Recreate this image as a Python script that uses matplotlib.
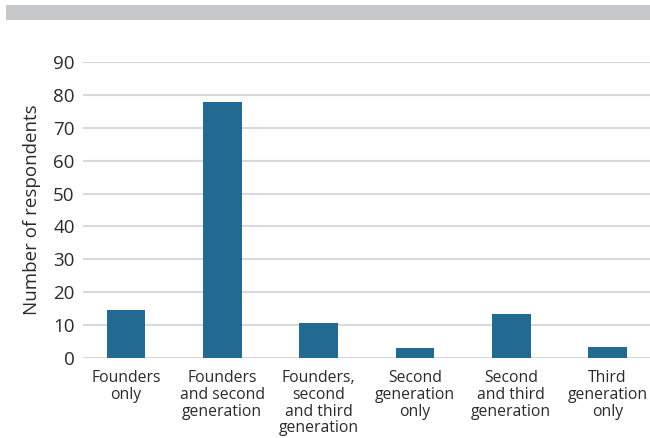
import matplotlib.pyplot as plt
from matplotlib.patches import Rectangle

# Respondents by generations involved
categories = [
    'Founders\nonly',
    'Founders\nand second\ngeneration',
    'Founders,\nsecond\nand third\ngeneration',
    'Second\ngeneration\nonly',
    'Second\nand third\ngeneration',
    'Third\ngeneration\nonly',
]
respondents = [14.6, 77.8, 10.7, 3.1, 13.4, 3.3]
yticks = [0, 10, 20, 30, 40, 50, 60, 70, 80, 90]

plt.rcParams['font.family'] = ['Open Sans', 'DejaVu Sans']
text_color = '#2b2b2b'

fig = plt.figure(figsize=(6.5, 4.38), dpi=100)
ax = fig.add_axes([83 / 650, 1 - 358 / 438, 567 / 650, 296 / 438])

# grey band across the top
fig.patches.append(Rectangle((6 / 650, 1 - 20 / 438), 644 / 650, 15 / 438,
                             transform=fig.transFigure, facecolor='#c6c7c9',
                             edgecolor='none'))

x = list(range(len(categories)))
ax.bar(x, respondents, width=0.4, color='#236a93', zorder=3)

ax.set_ylim(0, 90)
ax.set_xlim(-0.446, 5.44)
ax.set_yticks(yticks)
ax.set_xticks(x)
ax.set_xticklabels(categories, fontsize=11.3, color=text_color, linespacing=1.05)
ax.tick_params(axis='y', length=0, pad=6, labelsize=13.5, labelcolor=text_color)
ax.tick_params(axis='x', length=0, pad=9)
ax.grid(axis='y', color='#d9d9d9', linewidth=1.5, zorder=0)
for s in ax.spines.values():
    s.set_visible(False)

ax.set_ylabel('Number of respondents', fontsize=13.5, color=text_color, labelpad=9)

plt.savefig('out.png', dpi=100)
